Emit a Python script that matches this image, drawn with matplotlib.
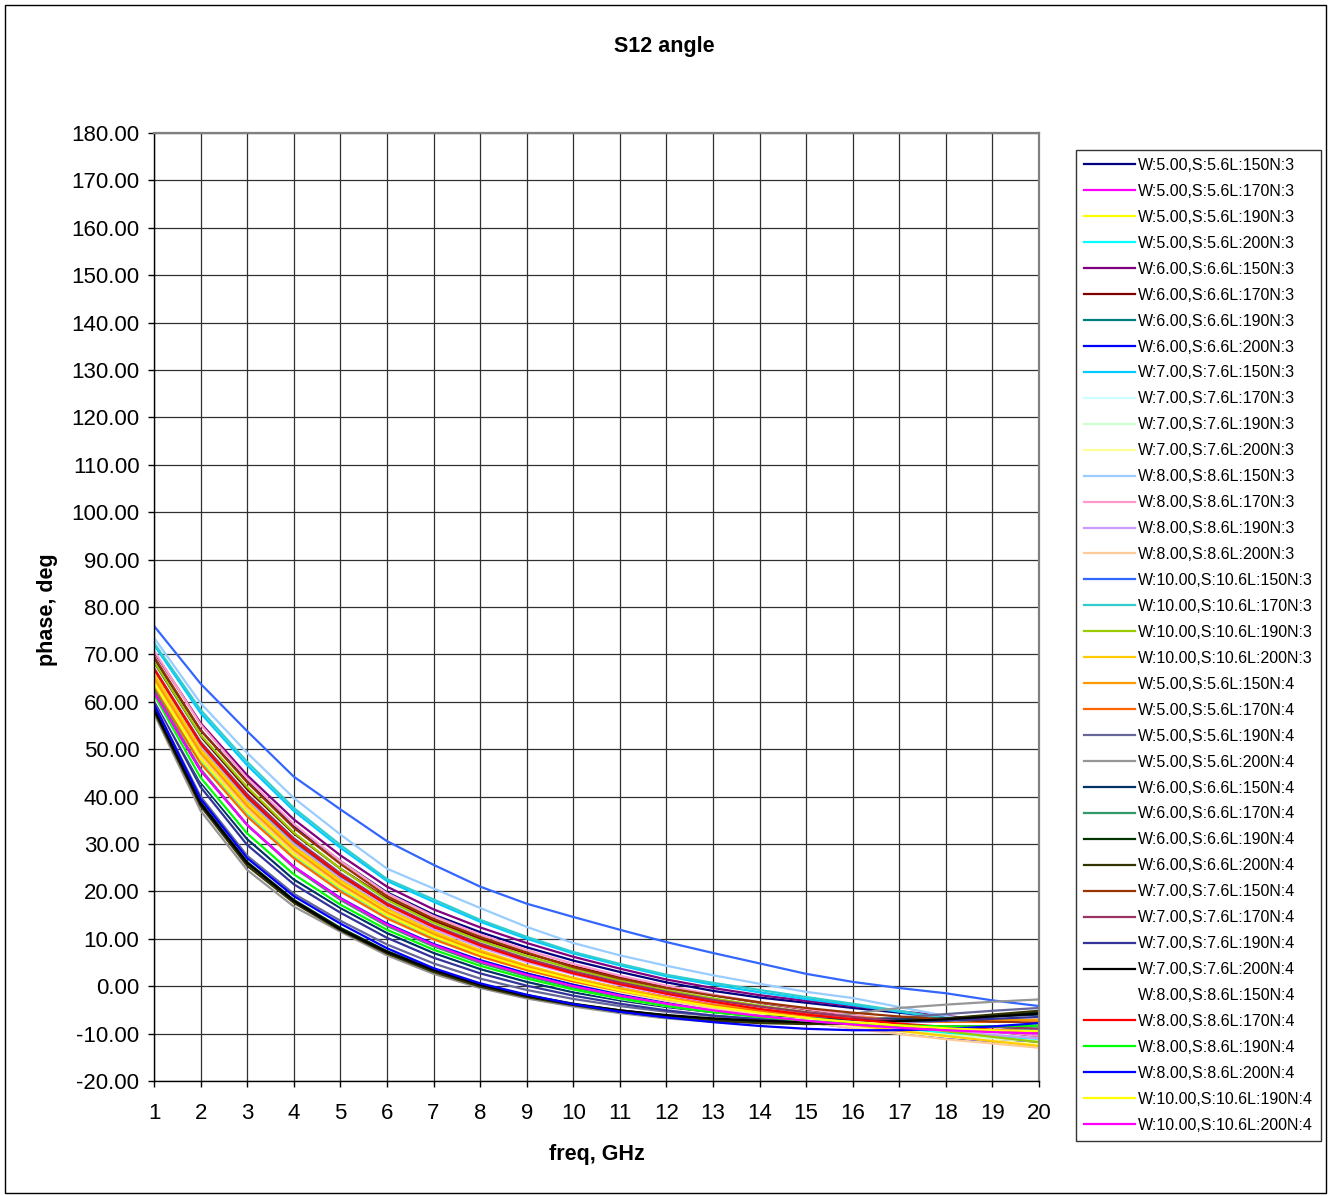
import matplotlib
matplotlib.use("Agg")
from matplotlib import pyplot as plt
from matplotlib.patches import Rectangle
from matplotlib.ticker import MultipleLocator, FormatStrFormatter

plt.rcParams["font.family"] = ["Liberation Sans", "DejaVu Sans"]

freq = list(range(1, 21))

# phase (deg) per series, rows are L = 150, 170, 190, 200
w5_n3 = [
    [69.0, 54.0, 43.2, 33.8, 26.4, 19.8, 15.1, 11.4, 8.2, 5.4, 3.0, 0.8, -1.0, -2.4, -3.5, -4.6, -5.6, -6.6, -7.5, -8.3],
    [64.0, 48.0, 36.8, 28.0, 21.0, 15.2, 10.8, 7.2, 4.2, 1.7, -0.4, -2.2, -3.8, -5.1, -6.2, -7.2, -8.1, -8.9, -9.5, -10.0],
    [65.5, 49.5, 38.2, 29.0, 21.8, 15.8, 11.1, 7.3, 4.2, 1.6, -0.6, -2.5, -4.1, -5.5, -6.7, -7.8, -8.9, -9.9, -10.8, -11.6],
    [63.5, 47.5, 36.4, 27.5, 20.5, 14.8, 10.3, 6.6, 3.6, 1.1, -1.0, -2.8, -4.3, -5.6, -6.8, -7.9, -8.9, -9.8, -10.6, -11.3],
]
w6_n3 = [
    [70.5, 55.5, 44.5, 35.2, 27.6, 21.0, 16.2, 12.4, 9.1, 6.2, 3.7, 1.4, -0.4, -1.9, -3.1, -4.2, -5.3, -6.3, -7.2, -8.1],
    [68.0, 52.5, 41.5, 32.2, 24.8, 18.5, 13.8, 10.0, 6.9, 4.2, 1.9, -0.1, -1.9, -3.5, -4.9, -6.2, -7.4, -8.6, -9.7, -10.8],
    [66.5, 50.8, 39.6, 30.4, 23.2, 17.2, 12.6, 8.8, 5.7, 3.1, 0.8, -1.1, -2.8, -4.2, -5.5, -6.6, -7.6, -8.5, -9.3, -10.0],
    [62.0, 45.5, 34.0, 25.2, 18.6, 13.2, 8.9, 5.5, 2.7, 0.4, -1.6, -3.3, -4.9, -6.3, -7.6, -8.8, -9.9, -10.9, -11.6, -12.0],
]
w7_n3 = [
    [72.0, 57.6, 46.6, 37.0, 29.2, 22.2, 17.8, 13.6, 10.0, 6.9, 4.4, 2.1, 0.3, -1.3, -2.7, -4.0, -5.4, -6.8, -8.1, -9.5],
    [67.5, 52.0, 40.8, 31.5, 24.0, 17.8, 13.1, 9.3, 6.1, 3.4, 1.1, -0.9, -2.6, -4.1, -5.5, -6.8, -7.9, -9.0, -10.0, -11.0],
    [65.0, 49.0, 37.8, 28.7, 21.5, 15.6, 10.9, 7.1, 4.0, 1.4, -0.8, -2.7, -4.3, -5.7, -7.0, -8.2, -9.3, -10.3, -11.0, -11.6],
    [63.0, 47.0, 35.8, 27.0, 20.0, 14.3, 9.8, 6.2, 3.3, 0.8, -1.3, -3.1, -4.7, -6.1, -7.4, -8.6, -9.7, -10.7, -11.5, -12.2],
]
w8_n3 = [
    [73.5, 59.7, 49.2, 39.7, 32.0, 24.8, 20.6, 16.5, 12.5, 9.1, 6.5, 4.3, 2.3, 0.5, -1.2, -2.5, -4.4, -6.3, -8.2, -10.2],
    [70.8, 55.2, 43.8, 34.2, 26.4, 19.6, 14.8, 10.9, 7.6, 4.7, 2.2, 0.1, -1.8, -3.4, -4.8, -6.1, -7.3, -8.4, -9.5, -10.5],
    [66.0, 50.4, 39.2, 30.0, 22.7, 16.6, 12.0, 8.2, 5.1, 2.5, 0.2, -1.7, -3.4, -4.9, -6.2, -7.4, -8.5, -9.5, -10.3, -11.0],
    [64.5, 48.5, 37.3, 28.3, 21.2, 15.3, 10.6, 6.8, 3.7, 1.1, -1.1, -3.0, -4.7, -6.2, -7.6, -8.9, -10.1, -11.2, -12.1, -13.0],
]
w10_n3 = [
    [76.0, 63.8, 53.8, 44.2, 37.3, 30.6, 25.6, 21.0, 17.4, 14.6, 11.9, 9.3, 7.0, 4.8, 2.6, 0.9, -0.4, -1.5, -3.0, -4.2],
    [72.4, 58.3, 47.3, 37.6, 29.8, 22.6, 18.3, 14.0, 10.4, 7.2, 4.7, 2.4, 0.7, -0.8, -2.3, -3.7, -5.2, -6.8, -8.3, -9.8],
    [68.5, 53.0, 42.0, 32.4, 24.8, 18.2, 13.4, 9.6, 6.4, 3.6, 1.2, -0.9, -2.6, -4.1, -5.5, -6.9, -8.2, -9.5, -10.7, -11.8],
    [66.0, 50.0, 38.8, 29.5, 22.3, 16.3, 11.5, 7.6, 4.4, 1.8, -0.4, -2.3, -4.0, -5.5, -6.9, -8.2, -9.4, -10.5, -11.6, -12.6],
]
w5_n4 = [
    [65.0, 49.2, 38.0, 28.8, 21.6, 15.6, 11.0, 7.2, 4.1, 1.5, -0.7, -2.5, -3.9, -5.0, -5.9, -6.5, -6.9, -7.1, -7.2, -7.1],
    [63.0, 47.0, 35.8, 27.0, 20.0, 14.3, 9.9, 6.3, 3.4, 1.0, -1.0, -2.7, -4.1, -5.3, -6.2, -6.9, -7.4, -7.7, -7.8, -7.6],
    [59.5, 40.0, 27.5, 19.5, 13.8, 8.8, 4.8, 1.6, -0.8, -2.7, -4.2, -5.4, -6.3, -6.9, -7.2, -7.1, -6.6, -5.9, -5.2, -4.6],
    [57.5, 37.0, 24.5, 16.8, 11.5, 6.5, 2.6, -0.4, -2.6, -4.3, -5.7, -6.8, -7.5, -7.6, -7.0, -5.8, -4.6, -3.9, -3.3, -2.8],
]
w6_n4 = [
    [61.0, 43.0, 31.0, 22.5, 16.5, 11.2, 7.0, 3.6, 0.9, -1.3, -3.0, -4.4, -5.5, -6.3, -6.8, -7.0, -7.0, -6.8, -6.4, -6.0],
    [62.5, 45.8, 34.0, 25.0, 18.2, 12.7, 8.4, 4.9, 2.1, -0.3, -2.3, -4.0, -5.4, -6.5, -7.4, -8.0, -8.4, -8.6, -8.6, -8.5],
    [58.5, 38.8, 26.2, 18.2, 12.3, 7.4, 3.5, 0.4, -1.9, -3.7, -5.1, -6.2, -7.0, -7.5, -7.8, -7.8, -7.5, -6.9, -6.2, -5.5],
    [58.0, 38.0, 25.4, 17.6, 11.8, 6.9, 3.0, -0.1, -2.3, -4.0, -5.4, -6.5, -7.3, -7.8, -8.0, -7.9, -7.5, -6.8, -6.0, -5.2],
]
w7_n4 = [
    [69.5, 54.0, 43.0, 33.4, 25.8, 19.0, 14.2, 10.4, 7.1, 4.0, 1.6, -0.4, -2.0, -3.4, -4.6, -5.6, -6.4, -7.0, -7.5, -7.8],
    [67.0, 51.5, 40.5, 31.2, 23.8, 17.5, 12.8, 9.0, 5.8, 3.1, 0.8, -1.2, -2.9, -4.3, -5.5, -6.5, -7.4, -8.1, -8.6, -9.0],
    [60.5, 42.0, 29.8, 21.5, 15.5, 10.2, 6.0, 2.7, 0.1, -2.0, -3.7, -5.1, -6.2, -7.0, -7.5, -7.7, -7.6, -7.3, -6.9, -6.5],
    [58.5, 38.5, 26.0, 18.0, 12.0, 7.2, 3.4, 0.3, -2.0, -3.8, -5.1, -6.1, -6.8, -7.3, -7.6, -7.6, -7.4, -7.0, -6.4, -5.8],
]
w8_n4 = [
    [61.0, 43.5, 31.8, 23.2, 17.0, 11.8, 7.6, 4.2, 1.5, -0.8, -2.7, -4.2, -5.4, -6.4, -7.1, -7.6, -7.9, -8.0, -8.0, -8.0],
    [67.0, 51.2, 40.0, 30.8, 23.4, 17.2, 12.5, 8.6, 5.4, 2.7, 0.4, -1.6, -3.3, -4.8, -6.0, -7.0, -7.9, -8.6, -9.2, -9.6],
    [61.5, 44.0, 32.2, 23.6, 17.2, 11.9, 7.7, 4.3, 1.6, -0.7, -2.6, -4.2, -5.5, -6.5, -7.3, -7.9, -8.3, -8.5, -8.5, -8.3],
    [59.5, 39.5, 27.0, 19.0, 13.2, 8.0, 3.8, 0.6, -1.8, -3.8, -5.4, -6.6, -7.6, -8.4, -9.0, -9.3, -9.3, -9.0, -8.5, -7.8],
]
w10_n4 = [
    [64.0, 48.0, 36.8, 27.8, 20.8, 15.0, 10.5, 6.8, 3.8, 1.3, -0.9, -2.7, -4.3, -5.6, -6.7, -7.6, -8.3, -8.9, -9.3, -9.5],
    [62.0, 45.5, 34.0, 25.2, 18.5, 13.0, 8.7, 5.2, 2.4, 0.0, -2.0, -3.7, -5.1, -6.3, -7.3, -8.1, -8.8, -9.3, -9.7, -10.0],
]

groups = [
    (5, 3, [150, 170, 190, 200], w5_n3),
    (6, 3, [150, 170, 190, 200], w6_n3),
    (7, 3, [150, 170, 190, 200], w7_n3),
    (8, 3, [150, 170, 190, 200], w8_n3),
    (10, 3, [150, 170, 190, 200], w10_n3),
    (5, 4, [150, 170, 190, 200], w5_n4),
    (6, 4, [150, 170, 190, 200], w6_n4),
    (7, 4, [150, 170, 190, 200], w7_n4),
    (8, 4, [150, 170, 190, 200], w8_n4),
    (10, 4, [190, 200], w10_n4),
]

colors = [
    "#000080", "#FF00FF", "#FFFF00", "#00FFFF", "#800080", "#800000", "#008080", "#0000FF",
    "#00CCFF", "#CCFFFF", "#CCFFCC", "#FFFF99", "#99CCFF", "#FF99CC", "#CC99FF", "#FFCC99",
    "#3366FF", "#33CCCC", "#99CC00", "#FFCC00", "#FF9900", "#FF6600", "#666699", "#969696",
    "#003366", "#339966", "#003300", "#333300", "#993300", "#993366", "#333399", "#000000",
    "#FFFFFF", "#FF0000", "#00FF00", "#0000FF", "#FFFF00", "#FF00FF",
]

fig = plt.figure(figsize=(13.28, 11.96), dpi=100)
ax = fig.add_axes([0.1160, 0.0962, 0.6664, 0.7926])

i = 0
for w, n, lengths, rows in groups:
    for l, vals in zip(lengths, rows):
        label = f"W:{w:.2f},S:{w + 0.6:.1f}L:{l}N:{n}"
        ax.plot(freq, vals, color=colors[i], lw=1.6, label=label)
        i += 1

ax.set_xlim(1, 20)
ax.set_ylim(-20, 180)
ax.xaxis.set_major_locator(MultipleLocator(1))
ax.yaxis.set_major_locator(MultipleLocator(10))
ax.yaxis.set_major_formatter(FormatStrFormatter("%.2f"))
ax.grid(True, color="#303030", lw=0.9)
ax.set_axisbelow(True)
ax.tick_params(direction="out", length=4, width=1, labelsize=16)
ax.tick_params(axis="y", pad=6.5)
ax.tick_params(axis="x", pad=12)
for side in ("left", "bottom"):
    ax.spines[side].set_color("black")
    ax.spines[side].set_linewidth(1)
for side in ("top", "right"):
    ax.spines[side].set_color("#808080")
    ax.spines[side].set_linewidth(1.6)

fig.text(0.5, 0.9615, "S12 angle", ha="center", va="center", fontsize=15.5, fontweight="bold")
fig.text(0.0354, 0.49, "phase, deg", ha="center", va="center", rotation=90,
         fontsize=15.5, fontweight="bold")
fig.text(0.4492, 0.0343, "freq, GHz", ha="center", va="center", fontsize=15.5, fontweight="bold")

leg = fig.legend(loc="upper left", bbox_to_anchor=(0.8102, 0.8746), fontsize=11.5,
                 handlelength=3.2, handletextpad=0.2, labelspacing=0.685, borderpad=0.5,
                 borderaxespad=0, frameon=True, fancybox=False, edgecolor="black")
leg.get_frame().set_linewidth(1)

fig.patches.append(Rectangle((5 / 1328, 3 / 1196), 1321 / 1328, 1188 / 1196,
                             transform=fig.transFigure, fill=False,
                             edgecolor="black", lw=1))

fig.savefig("out.png", dpi=100)
